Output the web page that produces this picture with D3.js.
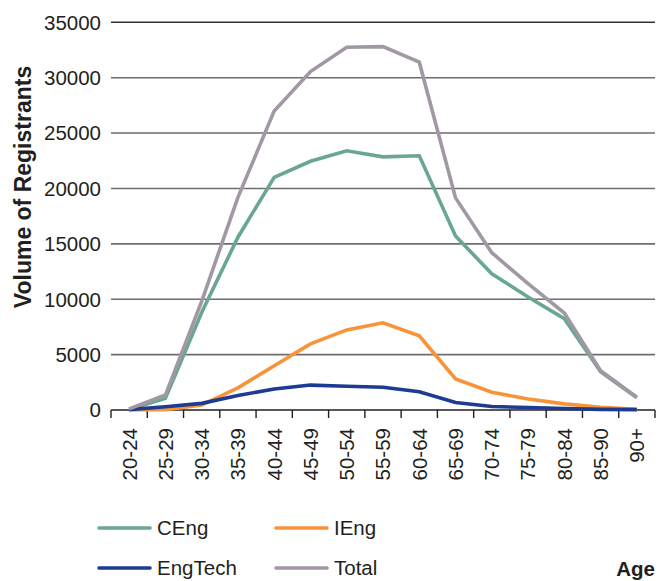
<!DOCTYPE html>
<html><head><meta charset="utf-8">
<script src="https://cdn.jsdelivr.net/npm/d3@7"></script>
<style>body{margin:0;background:#fff}svg{display:block;font-family:"Liberation Sans",Arial,sans-serif}</style>
</head><body><svg id="c" width="670" height="581"></svg>
<script>
const categories=["20-24","25-29","30-34","35-39","40-44","45-49","50-54","55-59","60-64","65-69","70-74","75-79","80-84","85-90","90+"];
const ceng=[50,1050,8800,15600,21000,22450,23400,22850,22950,15700,12300,10200,8250,3450,1100];
const ieng=[20,30,450,2000,4000,5970,7230,7870,6700,2800,1600,1000,550,250,60];
const engtech=[30,300,600,1300,1900,2250,2150,2050,1650,680,320,220,130,60,30];
const total=[100,1350,9800,19200,27000,30550,32750,32800,31400,19150,14200,11400,8750,3550,1150];
const yTicks=[0,5000,10000,15000,20000,25000,30000,35000];
const seriesNames=["CEng","IEng","EngTech","Total"];
const seriesColors=["#6aa792","#f7943a","#1d3b91","#a297a5"];

const svg=d3.select("#c");
const x0=111,x1=655,yTop=22.3,yBot=410;
const x=d3.scalePoint().domain(categories).range([x0,x1]).padding(0.5);
const y=d3.scaleLinear().domain([0,35000]).range([yBot,yTop]);

// gridlines
svg.append("g").selectAll("line").data(yTicks.filter(d=>d>0)).join("line")
  .attr("x1",x0).attr("x2",x1).attr("y1",d=>y(d)).attr("y2",d=>y(d))
  .attr("stroke",d=>d===35000?"#333":"#6d6d6d").attr("stroke-width",1.6);

// y tick labels
svg.append("g").selectAll("text").data(yTicks).join("text")
  .attr("x",101).attr("y",d=>y(d)).attr("dy","0.36em").attr("text-anchor","end")
  .attr("font-size",20.5).attr("fill","#231f20").text(d=>d);

// x axis
const xa=svg.append("g");
xa.append("line").attr("x1",x0).attr("x2",x1).attr("y1",yBot).attr("y2",yBot).attr("stroke","#231f20").attr("stroke-width",1.6);
const bounds=d3.range(categories.length+1).map(i=>x0+i*x.step());
xa.selectAll("line.t").data(bounds).join("line").attr("class","t")
  .attr("x1",d=>d).attr("x2",d=>d).attr("y1",yBot).attr("y2",yBot+8).attr("stroke","#231f20").attr("stroke-width",1.4);
xa.selectAll("text").data(categories).join("text")
  .attr("transform",d=>`translate(${x(d)},428) rotate(-90)`)
  .attr("text-anchor","end").attr("dy","0.36em").attr("font-size",20.5).attr("fill","#231f20").text(d=>d);

// lines
const data=[ceng,ieng,engtech,total];
const line=d3.line().x((d,i)=>x(categories[i])).y(d=>y(d));
[0,1,2,3].forEach(k=>{
  svg.append("path").datum(data[k]).attr("d",line).attr("fill","none")
    .attr("stroke",seriesColors[k]).attr("stroke-width",3.6).attr("stroke-linejoin","miter");
});

// y label
svg.append("text").attr("transform","translate(23,187) rotate(-90)").attr("text-anchor","middle")
  .attr("dy","0.36em").attr("font-size",23).attr("font-weight","bold").attr("fill","#231f20").text("Volume of Registrants");

// legend
const lx=[99,276],ly=[528,568];
seriesNames.forEach((n,k)=>{
  const cx=lx[k%2],cy=ly[Math.floor(k/2)];
  svg.append("line").attr("x1",cx).attr("x2",cx+51).attr("y1",cy).attr("y2",cy)
    .attr("stroke",seriesColors[k]).attr("stroke-width",3.6).attr("stroke-linecap","round");
  svg.append("text").attr("x",cx+58).attr("y",cy).attr("dy","0.36em").attr("font-size",20.5).attr("fill","#231f20").text(n);
});
svg.append("text").attr("x",655).attr("y",569).attr("dy","0.36em").attr("text-anchor","end")
  .attr("font-size",20.5).attr("font-weight","bold").attr("fill","#231f20").text("Age");
</script></body></html>
